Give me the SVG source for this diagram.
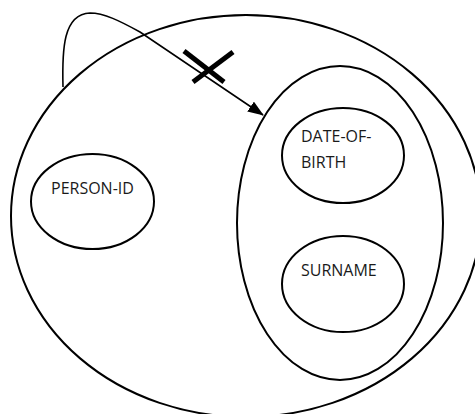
<svg xmlns="http://www.w3.org/2000/svg" width="475" height="414" viewBox="0 0 475 414">
  <style>
    .ell { fill: none; stroke: #000; stroke-width: 2; }
    .lbl { font-family: "Open Sans", "Liberation Sans", sans-serif; font-size: 16px; fill: #1a1a1a; }
    .conn { fill: none; stroke: #000; stroke-width: 1.6; }
    .cross { stroke: #000; stroke-width: 5; stroke-linecap: butt; }
  </style>
  <defs>
    <marker id="arrow" viewBox="0 0 16 12" refX="15" refY="6" markerWidth="16" markerHeight="12" markerUnits="userSpaceOnUse" orient="auto">
      <path d="M0,0 L16,6 L0,12 Z" fill="#000"/>
    </marker>
  </defs>

  <rect width="475" height="414" fill="#fff"/>

  <!-- relation PERSON -->
  <g id="person">
    <ellipse class="ell" cx="246" cy="216" rx="235" ry="201"/>
  </g>

  <!-- dependent attribute group -->
  <g id="attribute-group">
    <ellipse class="ell" cx="340" cy="223" rx="103" ry="157"/>
  </g>

  <g id="person-id">
    <ellipse class="ell" cx="92.5" cy="201.5" rx="61.5" ry="47.5"/>
    <text class="lbl" x="51" y="194">PERSON-ID</text>
  </g>

  <g id="date-of-birth">
    <ellipse class="ell" cx="343" cy="155.5" rx="61" ry="47.5"/>
    <text class="lbl" x="301" y="142">DATE-OF-</text>
    <text class="lbl" x="301" y="168">BIRTH</text>
  </g>

  <g id="surname">
    <ellipse class="ell" cx="343" cy="284" rx="61" ry="48"/>
    <text class="lbl" x="301" y="276">SURNAME</text>
  </g>

  <!-- dependency arrow, struck out -->
  <g id="connectors">
    <path class="conn" d="M63,87 C62,50 63,14 90,13 C104,13 120,21 140,32 L263,115" marker-end="url(#arrow)"/>
    <line class="cross" x1="184" y1="51" x2="224" y2="82"/>
    <line class="cross" x1="193" y1="82" x2="233" y2="52"/>
  </g>
</svg>
